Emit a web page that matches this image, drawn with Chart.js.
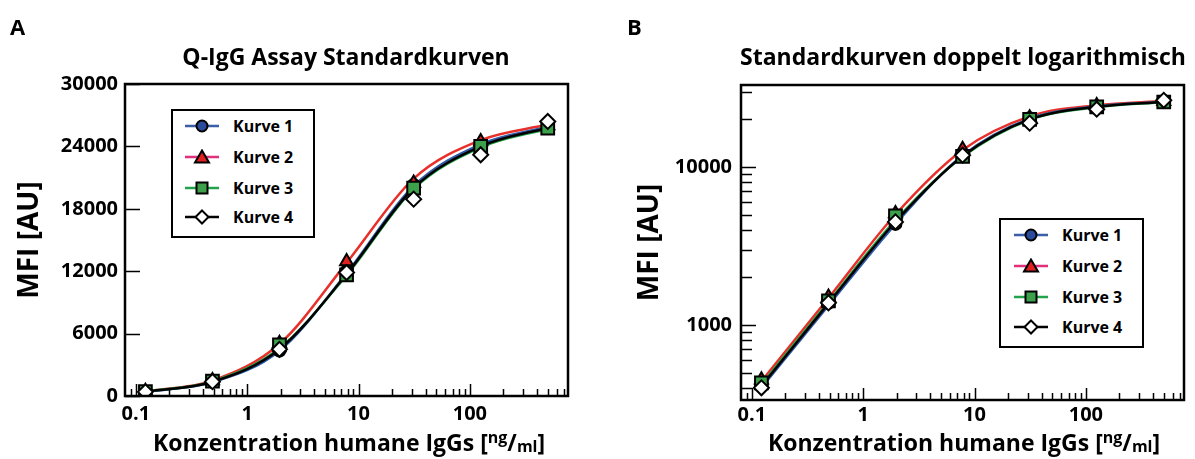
<!DOCTYPE html>
<html>
<head>
<meta charset="utf-8">
<script src="https://cdn.jsdelivr.net/npm/chart.js@4"></script>
<style>
  body { margin: 0; width: 1195px; height: 459px; background: #fff; position: relative; overflow: hidden;
         font-family: "Open Sans", sans-serif; font-weight: 700; color: #000; }
  canvas { position: absolute; top: 0; }
  .abs { position: absolute; white-space: nowrap; line-height: 1; }
  .panel { font-size: 22px; }
  .title { font-size: 23px; transform: translateX(-50%); }
  .xt { font-size: 23px; transform: translateX(-50%); }
  .xt sup { font-size: 16px; position: relative; top: -2px; vertical-align: top; }
  .xt sub { font-size: 16px; position: relative; top: 7px; vertical-align: top; }
  .legend { position: absolute; box-sizing: border-box; border: 2px solid #000; background: #fff; }
  .legend svg { position: absolute; }
  .legend span { position: absolute; font-size: 16px; line-height: 20px; }
</style>
</head>
<body>
<canvas id="chartA" width="597" height="459" style="left:0"></canvas>
<canvas id="chartB" width="595" height="459" style="left:600px"></canvas>

<div class="abs panel" style="left:10px;top:15px">A</div>
<div class="abs panel" style="left:627px;top:15px">B</div>
<div class="abs title" style="left:346px;top:45px">Q-IgG Assay Standardkurven</div>
<div class="abs title" style="left:963px;top:45px">Standardkurven doppelt logarithmisch</div>
<div class="abs xt" style="left:349px;top:431px">Konzentration humane IgGs [<sup>ng</sup>/<sub>ml</sub>]</div>
<div class="abs xt" style="left:964px;top:431px">Konzentration humane IgGs [<sup>ng</sup>/<sub>ml</sub>]</div>

<div id="legendA" class="legend" style="left:171px;top:109px;width:144px;height:129px"></div>
<div id="legendB" class="legend" style="left:999px;top:218px;width:145px;height:130px"></div>

<script>
// concentrations (ng/ml), 4-fold dilution series
const concentrations = [0.122, 0.488, 1.95, 7.81, 31.25, 125, 500];

// measured MFI values (markers)
const kurve1 = [420, 1380, 4360, 11970, 20300, 24160, 26000];
const kurve2 = [450, 1500, 5070, 12930, 20470, 24480, 26000];
const kurve3 = [430, 1420, 4910, 11650, 19990, 24000, 25760];
const kurve4 = [400, 1380, 4490, 11870, 18930, 23200, 26400];

// fitted standard curves (lines), read at the same concentrations
const fit1 = [400, 1330, 4350, 11800, 20200, 24200, 25900];
const fit2 = [440, 1480, 5000, 12800, 20900, 24600, 26100];
const fit3 = [420, 1400, 4600, 11600, 19900, 23900, 25700];
const fit4 = [410, 1370, 4500, 11700, 20000, 24000, 25800];

const seriesNames = ['Kurve 1', 'Kurve 2', 'Kurve 3', 'Kurve 4'];
const xTickLabels = [0.1, 1, 10, 100];
const yTickLabelsLog = [1000, 10000];

const lineColors = ['#2f5ba8', '#e8302a', '#22a048', '#000000'];
const legendLineColors = ['#3a5ea8', '#e0327a', '#22a24a', '#000000'];
const markerFill = ['#2b4c9c', '#e02020', '#3da04a', '#ffffff'];
const markerStyle = ['circle', 'triangle', 'rect', 'rectRot'];
const markerRadius = [6, 7.5, 9, 7.5];

const measured = [kurve1, kurve2, kurve3, kurve4];
const fits = [fit1, fit2, fit3, fit4];

const tickFont = { family: 'Open Sans', weight: 'bold', size: 20 };

function buildDatasets() {
  const sets = [];
  const lineOrder = [7, 8, 6, 5];
  fits.forEach((f, i) => {
    sets.push({
      label: seriesNames[i] + ' fit',
      data: concentrations.map((c, k) => ({ x: c, y: f[k] })),
      showLine: true,
      borderColor: lineColors[i],
      borderWidth: 2.5,
      pointRadius: 0,
      cubicInterpolationMode: 'monotone',
      fill: false,
      order: lineOrder[i]
    });
  });
  measured.forEach((m, i) => {
    sets.push({
      label: seriesNames[i],
      data: concentrations.map((c, k) => ({ x: c, y: m[k] })),
      showLine: false,
      pointStyle: markerStyle[i],
      pointRadius: markerRadius[i],
      pointBackgroundColor: markerFill[i],
      pointBorderColor: '#000',
      pointBorderWidth: 2,
      order: 4 - i
    });
  });
  return sets;
}

function logTicksBetween(min, max) {
  const out = [];
  for (let e = -3; e <= 5; e++) {
    for (let m = 1; m <= 9; m++) {
      const v = m * Math.pow(10, e);
      if (v > min && v < max) out.push({ v, major: m === 1 });
    }
  }
  return out;
}

// box around the plot and inward tick marks
function framePlugin(yLog) {
  return {
    id: 'frame',
    afterDraw(chart) {
      const { ctx, chartArea: a, scales: { x, y } } = chart;
      ctx.save();
      ctx.strokeStyle = '#000';
      ctx.lineWidth = 1.5;
      ctx.beginPath();
      logTicksBetween(x.min, x.max).forEach(t => {
        const px = Math.round(x.getPixelForValue(t.v)) + 0.5;
        const len = t.major ? 12 : 7;
        ctx.moveTo(px, a.bottom);
        ctx.lineTo(px, a.bottom - len);
      });
      if (yLog) {
        logTicksBetween(y.min, y.max).forEach(t => {
          const py = Math.round(y.getPixelForValue(t.v)) + 0.5;
          const len = t.major ? 15 : 11;
          ctx.moveTo(a.left, py);
          ctx.lineTo(a.left + len, py);
        });
      } else {
        y.ticks.forEach(t => {
          const py = Math.round(y.getPixelForValue(t.value)) + 0.5;
          ctx.moveTo(a.left, py);
          ctx.lineTo(a.left + 15, py);
        });
      }
      ctx.stroke();
      ctx.lineWidth = 2.5;
      ctx.strokeRect(a.left, a.top, a.right - a.left, a.bottom - a.top);
      ctx.restore();
    }
  };
}

function xScale(height, padding) {
  return {
    type: 'logarithmic', min: 0.08, max: 760,
    grid: { display: false, drawTicks: false }, border: { display: false },
    afterBuildTicks: s => { s.ticks = xTickLabels.map(v => ({ value: v })); },
    afterFit: s => { s.height = height; },
    ticks: { autoSkip: false, maxRotation: 0, padding, color: '#000', font: tickFont, callback: v => String(v) }
  };
}

function yTitle(top) {
  return { display: true, text: 'MFI [AU]', color: '#000',
           font: { family: 'Open Sans', weight: 'bold', size: 28 }, padding: { top } };
}

Chart.defaults.animation = false;

new Chart(document.getElementById('chartA'), {
  type: 'scatter',
  data: { datasets: buildDatasets() },
  options: {
    responsive: false,
    layout: { padding: { left: 0, top: 84, right: 29, bottom: 0 } },
    plugins: { legend: { display: false }, tooltip: { enabled: false } },
    scales: {
      x: xScale(63, 6),
      y: {
        type: 'linear', min: 0, max: 30000,
        grid: { display: false, drawTicks: false }, border: { display: false },
        afterFit: s => { s.width = 125; },
        ticks: { stepSize: 6000, padding: 7, color: '#000', font: tickFont, callback: v => String(v) },
        title: yTitle(13)
      }
    }
  },
  plugins: [framePlugin(false)]
});

new Chart(document.getElementById('chartB'), {
  type: 'scatter',
  data: { datasets: buildDatasets() },
  options: {
    responsive: false,
    layout: { padding: { left: 0, top: 85, right: 7, bottom: 0 } },
    plugins: { legend: { display: false }, tooltip: { enabled: false } },
    scales: {
      x: xScale(59, 3),
      y: {
        type: 'logarithmic', min: 335, max: 33000,
        grid: { display: false, drawTicks: false }, border: { display: false },
        afterBuildTicks: s => { s.ticks = yTickLabelsLog.map(v => ({ value: v })); },
        afterFit: s => { s.width = 141; },
        ticks: { autoSkip: false, padding: 9, color: '#000', font: tickFont, callback: v => String(v) },
        title: yTitle(33)
      }
    }
  },
  plugins: [framePlugin(true)]
});

// legend with line + marker, like the original figure
function markerSvg(i) {
  const line = `<line x1="0" y1="8" x2="34" y2="8" stroke="${legendLineColors[i]}" stroke-width="2.5"/>`;
  const s = 'stroke="#000" stroke-width="2"';
  const marks = [
    `<circle cx="17" cy="8" r="5.5" fill="${markerFill[0]}" ${s}/>`,
    `<polygon points="17,1.5 24,13.5 10,13.5" fill="${markerFill[1]}" ${s}/>`,
    `<rect x="11.5" y="2.5" width="11" height="11" fill="${markerFill[2]}" ${s}/>`,
    `<polygon points="17,1.5 23.5,8 17,14.5 10.5,8" fill="${markerFill[3]}" ${s}/>`
  ];
  return `<svg width="34" height="16" viewBox="0 0 34 16">${line}${marks[i]}</svg>`;
}

function buildLegend(id, rows, lineLeft, textLeft) {
  const el = document.getElementById(id);
  seriesNames.forEach((name, i) => {
    el.insertAdjacentHTML('beforeend',
      `<div style="position:absolute;left:${lineLeft}px;top:${rows[i] - 8}px">${markerSvg(i)}</div>` +
      `<span style="left:${textLeft}px;top:${rows[i] - 10}px">${name}</span>`);
  });
}

buildLegend('legendA', [15, 46, 77, 106], 12, 60);
buildLegend('legendB', [15, 46, 77, 107], 13, 61);
</script>
</body>
</html>
